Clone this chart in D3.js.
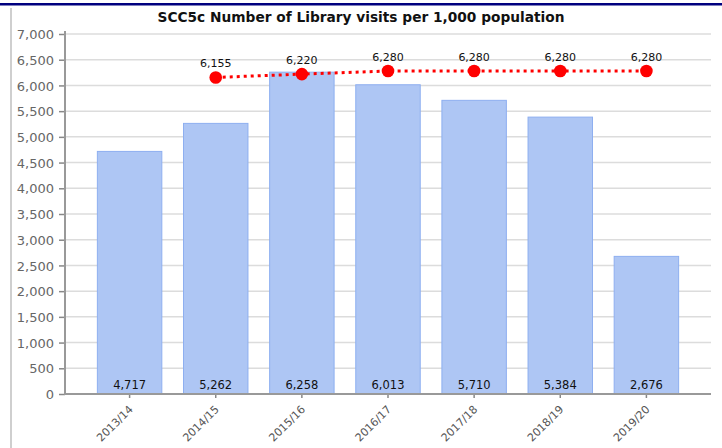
<!DOCTYPE html>
<html><head><meta charset="utf-8">
<script src="https://cdn.jsdelivr.net/npm/d3@7"></script>
<style>body{margin:0;background:#fff}svg{display:block}</style>
</head><body>
<svg id="c" width="722" height="448"></svg>
<script>
const categories = ["2013/14","2014/15","2015/16","2016/17","2017/18","2018/19","2019/20"];
const barValues = [4717,5262,6258,6013,5710,5384,2676];
const lineCategories = ["2014/15","2015/16","2016/17","2017/18","2018/19","2019/20"];
const lineValues = [6155,6220,6280,6280,6280,6280];
const yTicks = [0,500,1000,1500,2000,2500,3000,3500,4000,4500,5000,5500,6000,6500,7000];
const title = "SCC5c Number of Library visits per 1,000 population";

const svg = d3.select("#c");
const fmt = d3.format(",");
const L = 65, R = 711, T = 34, B = 394;
const font = "DejaVu Sans, Verdana, sans-serif";

// frame decorations
svg.append("rect").attr("x",0).attr("y",3).attr("width",722).attr("height",2.5).attr("fill","#00007f");
svg.append("rect").attr("x",10).attr("y",8).attr("width",2).attr("height",440).attr("fill","#cfcfcf");

const x = d3.scaleBand().domain(categories).range([L,R]).paddingInner(0.24).paddingOuter(0.37);
const y = d3.scaleLinear().domain([0,7000]).range([B,T]);

// gridlines
svg.append("g").selectAll("line").data(yTicks.filter(d=>d>0)).join("line")
  .attr("x1",L).attr("x2",R).attr("y1",d=>y(d)).attr("y2",d=>y(d))
  .attr("stroke","#dcdcdc").attr("stroke-width",1.5);

// bars
svg.append("g").selectAll("rect").data(barValues).join("rect")
  .attr("x",(d,i)=>x(categories[i])+0.5).attr("width",x.bandwidth()-1)
  .attr("y",d=>y(d)).attr("height",d=>B-y(d))
  .attr("fill","#aec6f4").attr("stroke","#8eaff0").attr("stroke-width",1);

// bar labels
svg.append("g").selectAll("text").data(barValues).join("text")
  .attr("x",(d,i)=>x(categories[i])+x.bandwidth()/2).attr("y",B-5)
  .attr("text-anchor","middle").attr("font-family",font).attr("font-size",11.5)
  .attr("fill","#111").text(d=>fmt(d));

// y axis
const ya = svg.append("g").attr("transform",`translate(${L},0)`)
  .call(d3.axisLeft(y).tickValues(yTicks).tickFormat(fmt).tickSize(6).tickPadding(5));
ya.select(".domain").remove();
ya.selectAll(".tick line").attr("stroke","#888").attr("stroke-width",1.5);
ya.selectAll(".tick text").attr("font-family",font).attr("font-size",13).attr("fill","#666").attr("dy","0.36em");
svg.append("line").attr("x1",L).attr("x2",L).attr("y1",T-3).attr("y2",B+1).attr("stroke","#999").attr("stroke-width",2);

// x axis
const xa = svg.append("g").attr("transform",`translate(0,${B})`)
  .call(d3.axisBottom(x).tickSize(4).tickSizeOuter(0));
xa.select(".domain").remove();
xa.selectAll(".tick line").attr("stroke","#888").attr("stroke-width",1.5);
xa.selectAll(".tick text").attr("font-family",font).attr("font-size",11).attr("fill","#555")
  .attr("text-anchor","end").attr("dy",null).attr("y",0)
  .attr("transform","translate(4,16) rotate(-45)");
svg.append("line").attr("x1",L-1).attr("x2",R).attr("y1",B).attr("y2",B).attr("stroke","#999").attr("stroke-width",2);

// line series
const cx = c => x(c)+x.bandwidth()/2;
svg.append("path").datum(lineValues)
  .attr("d", d3.line().x((d,i)=>cx(lineCategories[i])).y(d=>y(d)))
  .attr("fill","none").attr("stroke","#ff0000").attr("stroke-width",3)
  .attr("stroke-dasharray","3,4");
svg.append("g").selectAll("circle").data(lineValues).join("circle")
  .attr("cx",(d,i)=>cx(lineCategories[i])).attr("cy",d=>y(d)).attr("r",6.3).attr("fill","#ff0000");
svg.append("g").selectAll("text").data(lineValues).join("text")
  .attr("x",(d,i)=>cx(lineCategories[i])).attr("y",d=>y(d)-10)
  .attr("text-anchor","middle").attr("font-family",font).attr("font-size",11)
  .attr("fill","#111").text(d=>fmt(d));

// title
svg.append("text").attr("x",361).attr("y",22).attr("text-anchor","middle")
  .attr("font-family",font).attr("font-weight","bold").attr("font-size",13.5)
  .attr("textLength",407).attr("lengthAdjust","spacingAndGlyphs")
  .attr("fill","#111").text(title);
</script>
</body></html>
